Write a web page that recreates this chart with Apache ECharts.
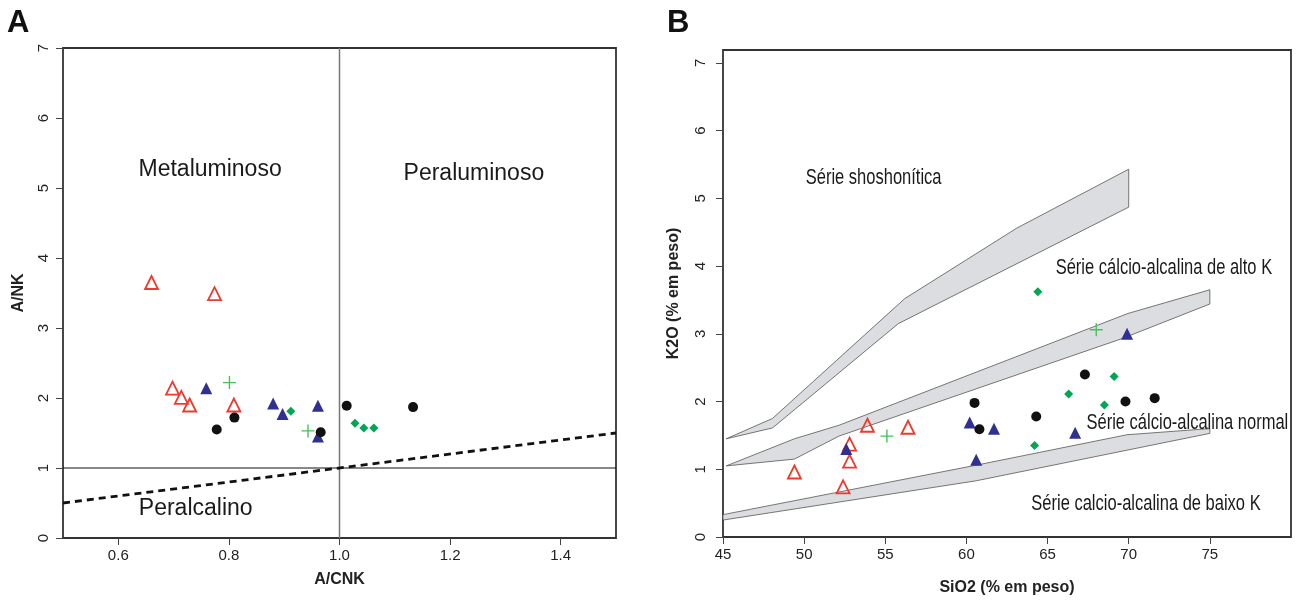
<!DOCTYPE html>
<html>
<head>
<meta charset="utf-8">
<script src="https://cdn.jsdelivr.net/npm/echarts@6/dist/echarts.min.js"></script>
<style>
  html, body { margin: 0; padding: 0; background: #fff; }
  #chart { width: 1296px; height: 601px; }
</style>
</head>
<body>
<div id="chart"></div>
<script>
// ---- panel A: A/CNK vs A/NK ----
const aCnkTicks = [0.6, 0.8, 1.0, 1.2, 1.4];
const aNkTicks = [0, 1, 2, 3, 4, 5, 6, 7];
const aRedOpen = [[0.660, 3.65], [0.774, 3.49], [0.698, 2.14], [0.714, 2.01], [0.729, 1.90], [0.809, 1.90]];
const aBlueTri = [[0.759, 2.14], [0.880, 1.92], [0.897, 1.77], [0.961, 1.89], [0.961, 1.45]];
const aBlackDot = [[0.778, 1.55], [0.810, 1.72], [0.966, 1.51], [1.013, 1.89], [1.133, 1.87]];
const aGreenDiamond = [[0.912, 1.81], [1.028, 1.64], [1.044, 1.57], [1.062, 1.57]];
const aGreenCross = [[0.801, 2.22], [0.943, 1.53]];
const aVertical = [[1.0, 0], [1.0, 7]];
const aHorizontal = [[0.5, 1.0], [1.5, 1.0]];
const aDashed = [[0.5, 0.5], [1.5, 1.5]];
const aFieldNames = [
  { name: 'Metaluminoso', value: [0.766, 5.26] },
  { name: 'Peraluminoso', value: [1.243, 5.21] },
  { name: 'Peralcalino', value: [0.740, 0.42] }
];

// ---- panel B: SiO2 vs K2O ----
const bSiTicks = [45, 50, 55, 60, 65, 70, 75];
const bKTicks = [0, 1, 2, 3, 4, 5, 6, 7];
const bRedOpen = [[49.4, 0.96], [52.4, 0.74], [52.8, 1.12], [52.8, 1.37], [53.9, 1.65], [56.4, 1.62]];
const bBlueTri = [[52.6, 1.30], [60.2, 1.69], [61.7, 1.60], [60.6, 1.14], [66.7, 1.54], [69.9, 3.00]];
const bBlackDot = [[60.5, 1.98], [60.8, 1.59], [64.3, 1.78], [67.3, 2.40], [69.8, 2.00], [71.6, 2.05]];
const bGreenDiamond = [[64.4, 3.62], [69.1, 2.37], [66.3, 2.11], [68.5, 1.95], [64.2, 1.35]];
const bGreenCross = [[55.1, 1.49], [68.0, 3.06]];
const bandShoshonitic = [[45.2, 1.45], [48.05, 1.75], [56.2, 3.52], [63.1, 4.56], [70.0, 5.43], [70.0, 4.87], [55.8, 3.15], [48.05, 1.61]];
const bandHighK = [[45.2, 1.05], [49.4, 1.45], [52.15, 1.65], [69.95, 3.30], [75.0, 3.65], [75.0, 3.44], [69.6, 2.93], [52.15, 1.49], [49.4, 1.15]];
const bandLowK = [[45.0, 0.33], [60.6, 1.06], [69.9, 1.51], [75.0, 1.60], [75.0, 1.53], [60.6, 0.83], [45.0, 0.25]];
const bSeriesNames = [
  { name: 'Série shoshonítica', value: [50.1, 5.30] },
  { name: 'Série cálcio-alcalina de alto K', value: [65.5, 3.97] },
  { name: 'Série cálcio-alcalina normal', value: [67.4, 1.69] },
  { name: 'Série calcio-alcalina de baixo K', value: [64.0, 0.49] }
];

const FONT = 'Liberation Sans, Arial, sans-serif';

const redOpenStyle = { color: 'rgba(0,0,0,0)', borderColor: '#ee3a2c', borderWidth: 1.8, opacity: 1 };
const crossPath = 'path://M0,6 L12,6 M6,0 L6,12';

function markerSeries(idx, red, blue, black, diamond, cross) {
  const base = { type: 'scatter', xAxisIndex: idx, yAxisIndex: idx, silent: true, z: 5 };
  return [
    { ...base, data: red, symbol: 'triangle', symbolSize: 13, itemStyle: redOpenStyle },
    { ...base, data: blue, symbol: 'triangle', symbolSize: 12, itemStyle: { color: '#2e3192', opacity: 1 } },
    { ...base, data: black, symbol: 'circle', symbolSize: 10, itemStyle: { color: '#111', opacity: 1 } },
    { ...base, data: diamond, symbol: 'diamond', symbolSize: 9, itemStyle: { color: '#00a651', opacity: 1 } },
    { ...base, data: cross, symbol: crossPath, symbolSize: 13,
      itemStyle: { color: 'rgba(0,0,0,0)', borderColor: '#45c25a', borderWidth: 1.4, opacity: 1 } }
  ];
}

function bandSeries(points) {
  return {
    type: 'custom', xAxisIndex: 1, yAxisIndex: 1, silent: true, z: 2,
    data: [0],
    renderItem: (params, api) => ({
      type: 'polygon',
      shape: { points: points.map(p => api.coord(p)) },
      style: { fill: '#dcdde0', stroke: '#555', lineWidth: 0.8 }
    })
  };
}

function lineSeries(data, style) {
  return { type: 'line', xAxisIndex: 0, yAxisIndex: 0, data, symbol: 'none', silent: true, z: 3, lineStyle: style };
}

// region names drawn at data positions; B uses a horizontally squeezed face
function textSeries(idx, data, align, size, squeeze) {
  return {
    type: 'custom', xAxisIndex: idx, yAxisIndex: idx, silent: true, z: 6,
    data: data.map(d => d.value),
    renderItem: (params, api) => {
      const p = api.coord([api.value(0), api.value(1)]);
      return {
        type: 'text', x: p[0], y: p[1], scaleX: squeeze,
        style: { text: data[params.dataIndex].name, fontSize: size, fontFamily: FONT,
          fill: '#1a1a1a', align, verticalAlign: 'middle' }
      };
    }
  };
}

const tickLabel = { color: '#222', fontSize: 15, fontFamily: FONT };
const axisName = { color: '#222', fontSize: 16, fontWeight: 'bold', fontFamily: FONT };

function xAxisCfg(idx, min, max, ticks, name, gap, fmt) {
  return {
    gridIndex: idx, type: 'value', min, max, name, nameLocation: 'middle', nameGap: gap,
    nameTextStyle: axisName, splitLine: { show: false }, axisLine: { show: false },
    axisTick: { show: true, length: 7, customValues: ticks, lineStyle: { color: '#444' } },
    axisLabel: { ...tickLabel, margin: 10, customValues: ticks, formatter: fmt }
  };
}

function yAxisCfg(idx, min, max, ticks, name, gap, margin) {
  return {
    gridIndex: idx, type: 'value', min, max, name, nameLocation: 'middle', nameGap: gap,
    nameTextStyle: axisName, splitLine: { show: false }, axisLine: { show: false },
    axisTick: { show: true, length: 7, customValues: ticks, lineStyle: { color: '#444' } },
    axisLabel: { ...tickLabel, margin, rotate: 90, customValues: ticks }
  };
}

const chart = echarts.init(document.getElementById('chart'), null, { renderer: 'canvas' });

const option = {
  animation: false,
  backgroundColor: '#fff',
  grid: [
    { left: 63, right: 680, top: 48, bottom: 63, show: true, borderColor: '#333', borderWidth: 1.8 },
    { left: 723, right: 5, top: 50, bottom: 63, show: true, borderColor: '#333', borderWidth: 1.8 }
  ],
  xAxis: [
    xAxisCfg(0, 0.5, 1.5, aCnkTicks, 'A/CNK', 34, v => v.toFixed(1)),
    xAxisCfg(1, 45, 80, bSiTicks, 'SiO2 (% em peso)', 43, v => String(v))
  ],
  yAxis: [
    yAxisCfg(0, 0, 7, aNkTicks, 'A/NK', 36, 12),
    yAxisCfg(1, 0, 7.19, bKTicks, 'K2O (% em peso)', 41, 15)
  ],
  graphic: [
    { type: 'text', left: 7, top: 8, style: { text: 'A', fontSize: 31, fontWeight: 'bold', fontFamily: FONT, fill: '#111' } },
    { type: 'text', left: 667, top: 8, style: { text: 'B', fontSize: 31, fontWeight: 'bold', fontFamily: FONT, fill: '#111' } }
  ],
  series: [
    lineSeries(aVertical, { color: '#777', width: 1.5 }),
    lineSeries(aHorizontal, { color: '#111', width: 1 }),
    lineSeries(aDashed, { color: '#111', width: 2.8, type: [7, 5] }),
    bandSeries(bandShoshonitic),
    bandSeries(bandHighK),
    bandSeries(bandLowK),
    ...markerSeries(0, aRedOpen, aBlueTri, aBlackDot, aGreenDiamond, aGreenCross),
    ...markerSeries(1, bRedOpen, bBlueTri, bBlackDot, bGreenDiamond, bGreenCross),
    textSeries(0, aFieldNames, 'center', 23, 1),
    textSeries(1, bSeriesNames, 'left', 22, 0.75)
  ]
};

chart.setOption(option);
</script>
</body>
</html>
